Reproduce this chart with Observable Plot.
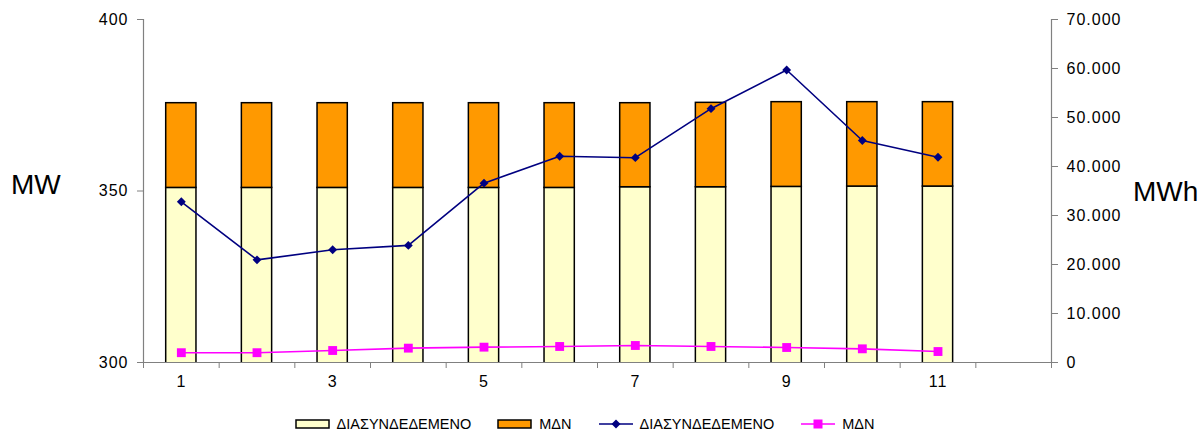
<!DOCTYPE html>
<html>
<head>
<meta charset="utf-8">
<script src="https://cdn.jsdelivr.net/npm/d3@7"></script>
<script src="https://cdn.jsdelivr.net/npm/@observablehq/plot@0.6"></script>
<style>
  html, body { margin: 0; padding: 0; background: #fff; }
  body { width: 1203px; height: 433px; position: relative; overflow: hidden; font-family: "Liberation Sans", Arial, sans-serif; }
  #chart { position: absolute; left: 0; top: 0; }
  #chart svg text { letter-spacing: 1px; }
  .axis-title { position: absolute; font-size: 28px; color: #000; line-height: 1; }
  #legend { position: absolute; left: -17px; top: 414px; width: 1203px; height: 20px; display: flex; justify-content: center; align-items: center; font-size: 14.5px; color: #000; }
  .item { display: flex; align-items: center; margin: 0 13px; }
  .item svg { margin-right: 6px; }
</style>
</head>
<body>
<div id="chart"></div>
<div class="axis-title" style="left:11px; top:171px;">MW</div>
<div class="axis-title" style="left:1133px; top:178px;">MWh</div>
<div id="legend"></div>
<script>
// ---- data ----
const days = [1, 2, 3, 4, 5, 6, 7, 8, 9, 10, 11];
const seriesNames = ["ΔΙΑΣΥΝΔΕΔΕΜΕΝΟ", "ΜΔΝ"];
// installed power (MW), left axis
const mwInterconnected = [350.9, 350.9, 350.9, 350.9, 350.9, 350.9, 351.1, 351.1, 351.2, 351.3, 351.3];
const mwNonInterconnected = [24.7, 24.7, 24.7, 24.7, 24.7, 24.7, 24.5, 24.6, 24.7, 24.6, 24.6];
// energy (MWh), right axis
const mwhInterconnected = [32800, 20950, 23000, 23900, 36600, 42100, 41800, 51800, 59700, 45300, 41900];
const mwhNonInterconnected = [2000, 2000, 2450, 2930, 3130, 3270, 3470, 3270, 3060, 2790, 2240];
// ticks
const leftTicks = [300, 350, 400];
const rightTicks = [0, 10000, 20000, 30000, 40000, 50000, 60000, 70000];
const xLabelTicks = [1, 3, 5, 7, 9, 11];
const xSlots = 12;

// ---- derived ----
const colors = { bar1: "#FFFFCC", bar2: "#FF9900", line1: "#000080", line2: "#FF00FF" };
const rightMax = 70000;
const toLeft = v => 300 + v / rightMax * 100;
const locale = d3.formatLocale({ decimal: ",", thousands: ".", grouping: [3], currency: ["", "€"] });
const fmt = locale.format(",");

const bars = [];
days.forEach((d, i) => {
  bars.push({ day: d, series: seriesNames[0], lo: 0, hi: mwInterconnected[i] });
  bars.push({ day: d, series: seriesNames[1], lo: mwInterconnected[i], hi: mwInterconnected[i] + mwNonInterconnected[i] });
});
const line1 = days.map((d, i) => ({ day: d, v: toLeft(mwhInterconnected[i]) }));
const line2 = days.map((d, i) => ({ day: d, v: toLeft(mwhNonInterconnected[i]) }));
const slotEdges = d3.range(0, xSlots + 1).map(k => k + 0.5);
const halfBar = 0.2;

const chart = Plot.plot({
  width: 1203,
  height: 400,
  marginLeft: 143,
  marginRight: 152,
  marginTop: 19,
  marginBottom: 38,
  style: { fontFamily: "'Liberation Sans', Arial, sans-serif", fontSize: "16px", color: "#000", background: "#fff" },
  x: { type: "linear", domain: [0.5, xSlots + 0.5], axis: null },
  y: { domain: [300, 400], axis: null },
  color: { domain: seriesNames, range: [colors.bar1, colors.bar2] },
  marks: [
    Plot.rectY(bars, { x1: d => d.day - halfBar, x2: d => d.day + halfBar, y1: "lo", y2: "hi", fill: "series", stroke: "#000", strokeWidth: 1.5, clip: true }),
    Plot.ruleY([300], { stroke: "#808080", strokeWidth: 1.2 }),
    Plot.ruleX([0.5, xSlots + 0.5], { stroke: "#808080", strokeWidth: 1.2 }),
    Plot.axisY(leftTicks, { anchor: "left", tickSize: 6, tickPadding: 9, label: null, stroke: "#808080", tickFormat: d => String(d) }),
    Plot.axisY(rightTicks.map(toLeft), { anchor: "right", tickSize: 6, tickPadding: 9, label: null, stroke: "#808080", tickFormat: d => fmt(Math.round((d - 300) * rightMax / 100)) }),
    Plot.axisX(slotEdges, { anchor: "bottom", tickSize: 6, tickFormat: () => "", label: null, stroke: "#808080" }),
    Plot.axisX(xLabelTicks, { anchor: "bottom", tickSize: 0, tickPadding: 13, label: null, tickFormat: d => String(d) }),
    Plot.line(line1, { x: "day", y: "v", stroke: colors.line1, strokeWidth: 1.6 }),
    Plot.dot(line1, { x: "day", y: "v", symbol: "diamond2", r: 4, fill: colors.line1, stroke: "none" }),
    Plot.line(line2, { x: "day", y: "v", stroke: colors.line2, strokeWidth: 1.6 }),
    Plot.dot(line2, { x: "day", y: "v", symbol: "square", r: 5, fill: colors.line2, stroke: "none" })
  ]
});
document.getElementById("chart").appendChild(chart);

// ---- legend ----
const legend = document.getElementById("legend");
const legendItems = [
  { label: seriesNames[0], kind: "box", color: colors.bar1 },
  { label: seriesNames[1], kind: "box", color: colors.bar2 },
  { label: seriesNames[0], kind: "diamond", color: colors.line1 },
  { label: seriesNames[1], kind: "square", color: colors.line2 }
];
legendItems.forEach(it => {
  const div = document.createElement("div");
  div.className = "item";
  let sw;
  if (it.kind === "box") {
    sw = `<svg width="36" height="12"><rect x="1" y="2" width="33" height="8" fill="${it.color}" stroke="#000" stroke-width="1.5"/></svg>`;
  } else if (it.kind === "diamond") {
    sw = `<svg width="36" height="12"><line x1="1" x2="35" y1="6" y2="6" stroke="${it.color}" stroke-width="1.6"/><path d="M18 1.5 L22.5 6 L18 10.5 L13.5 6 Z" fill="${it.color}"/></svg>`;
  } else {
    sw = `<svg width="36" height="12"><line x1="1" x2="35" y1="6" y2="6" stroke="${it.color}" stroke-width="1.6"/><rect x="13.5" y="1.5" width="9" height="9" fill="${it.color}"/></svg>`;
  }
  div.innerHTML = sw + `<span>${it.label}</span>`;
  legend.appendChild(div);
});
</script>
</body>
</html>
